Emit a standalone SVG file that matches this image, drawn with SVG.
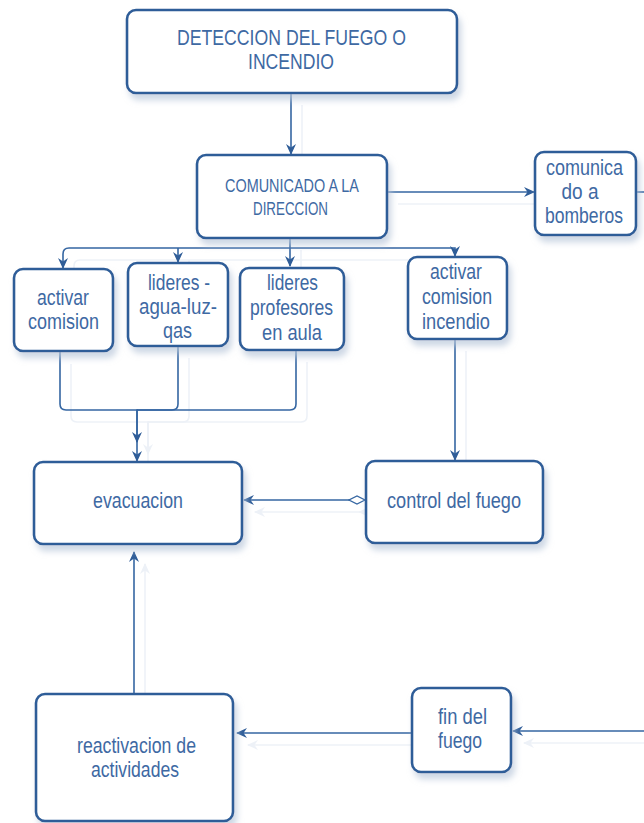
<svg xmlns="http://www.w3.org/2000/svg" xmlns:xlink="http://www.w3.org/1999/xlink" width="644" height="823" viewBox="0 0 644 823">
<style>
.box{fill:#ffffff;stroke:#2f5d98;stroke-width:2.6;filter:url(#sh)}
.t{font-family:"Liberation Sans Narrow","Liberation Sans",Arial,sans-serif;fill:#3e69a3;text-anchor:middle;font-size:22px}
.t.sm{font-size:18.5px}
.c{fill:none;stroke:#3566a2;stroke-width:1.6}
</style>
<defs>
<filter id="sh" x="-20%" y="-20%" width="140%" height="150%">
<feGaussianBlur in="SourceAlpha" stdDeviation="3"/>
<feOffset dx="3" dy="6" result="b"/>
<feFlood flood-color="#b9c7da" flood-opacity="0.7"/>
<feComposite in2="b" operator="in"/>
<feMerge><feMergeNode/><feMergeNode in="SourceGraphic"/></feMerge>
</filter>
<filter id="ghost">
<feFlood flood-color="#edf1f7"/>
<feComposite in2="SourceAlpha" operator="in"/>
</filter>
<marker id="ar" markerWidth="12" markerHeight="12" refX="10" refY="6" orient="auto" markerUnits="userSpaceOnUse">
<path d="M0,1 L11,6 L0,11 L3.5,6 z" fill="#2f5d98"/>
</marker>
<marker id="dm" markerWidth="18" markerHeight="10" refX="1" refY="5" orient="auto" markerUnits="userSpaceOnUse">
<path d="M1,5 L9,1 L17,5 L9,9 z" fill="#ffffff" stroke="#3566a2" stroke-width="1.3"/>
</marker>
</defs>
<rect width="644" height="823" fill="#ffffff"/>

<use xlink:href="#connectors" transform="translate(11,12)" filter="url(#ghost)"/>

<g id="connectors">
<path class="c" d="M291,93 V154" marker-end="url(#ar)"/>
<path class="c" d="M387,192 H534" marker-end="url(#ar)"/>
<path class="c" d="M636,192 H644"/>
<path class="c" d="M290,238 V266" marker-end="url(#ar)"/>
<path class="c" d="M290,248 H69 Q63,248 63,254 V268" marker-end="url(#ar)"/>
<path class="c" d="M178,248 V262" marker-end="url(#ar)"/>
<path class="c" d="M290,248 H455 V256" marker-end="url(#ar)"/>
<path class="c" d="M60,352 V404 Q60,410 66,410 H137 V461" marker-end="url(#ar)"/>
<path class="c" d="M178,346 V404 Q178,410 172,410 H137 V442" marker-end="url(#ar)"/>
<path class="c" d="M296,350 V404 Q296,410 290,410 H137"/>
<path class="c" d="M455,339 V460" marker-end="url(#ar)"/>
<path class="c" d="M365,500 H244" marker-start="url(#dm)" marker-end="url(#ar)"/>
<path class="c" d="M134,694 V552" marker-end="url(#ar)"/>
<path class="c" d="M412,733 H237" marker-end="url(#ar)"/>
<path class="c" d="M644,731 H513" marker-end="url(#ar)"/>
</g>

<g id="n-deteccion">
<rect class="box" x="127" y="10" width="330" height="83" rx="9"/>
<text class="t" x="291.5" y="45" textLength="229" lengthAdjust="spacingAndGlyphs">DETECCION DEL FUEGO O</text>
<text class="t" x="291" y="69" textLength="86" lengthAdjust="spacingAndGlyphs">INCENDIO</text>
</g>

<g id="n-comunicado">
<rect class="box" x="197" y="155" width="190" height="83" rx="9"/>
<text class="t sm" x="292" y="192" textLength="134" lengthAdjust="spacingAndGlyphs">COMUNICADO A LA</text>
<text class="t sm" x="290.5" y="215" textLength="75" lengthAdjust="spacingAndGlyphs">DIRECCION</text>
</g>

<g id="n-bomberos">
<rect class="box" x="535" y="152" width="101" height="83" rx="9"/>
<text class="t" x="584.5" y="175" textLength="77" lengthAdjust="spacingAndGlyphs">comunica</text>
<text class="t" x="580" y="199" textLength="37" lengthAdjust="spacingAndGlyphs">do a</text>
<text class="t" x="584" y="223" textLength="78" lengthAdjust="spacingAndGlyphs">bomberos</text>
</g>

<g id="n-activar">
<rect class="box" x="14" y="269" width="99" height="82" rx="9"/>
<text class="t" x="63" y="305" textLength="52" lengthAdjust="spacingAndGlyphs">activar</text>
<text class="t" x="63.5" y="329" textLength="71" lengthAdjust="spacingAndGlyphs">comision</text>
</g>

<g id="n-lideres-agua">
<rect class="box" x="128" y="263" width="100" height="83" rx="9"/>
<text class="t" x="179" y="290" textLength="62" lengthAdjust="spacingAndGlyphs">lideres -</text>
<text class="t" x="178" y="314" textLength="78" lengthAdjust="spacingAndGlyphs">agua-luz-</text>
<text class="t" x="177.5" y="338" textLength="29" lengthAdjust="spacingAndGlyphs">qas</text>
</g>

<g id="n-lideres-prof">
<rect class="box" x="240" y="268" width="104" height="82" rx="9"/>
<text class="t" x="292.5" y="290" textLength="51" lengthAdjust="spacingAndGlyphs">lideres</text>
<text class="t" x="291.5" y="315" textLength="83" lengthAdjust="spacingAndGlyphs">profesores</text>
<text class="t" x="292" y="340" textLength="60" lengthAdjust="spacingAndGlyphs">en aula</text>
</g>

<g id="n-incendio">
<rect class="box" x="408" y="257" width="99" height="82" rx="9"/>
<text class="t" x="456" y="279" textLength="52" lengthAdjust="spacingAndGlyphs">activar</text>
<text class="t" x="457" y="304" textLength="70" lengthAdjust="spacingAndGlyphs">comision</text>
<text class="t" x="456" y="329" textLength="68" lengthAdjust="spacingAndGlyphs">incendio</text>
</g>

<g id="n-evacuacion">
<rect class="box" x="34" y="462" width="208" height="82" rx="9"/>
<text class="t" x="138" y="508" textLength="90" lengthAdjust="spacingAndGlyphs">evacuacion</text>
</g>

<g id="n-control">
<rect class="box" x="366" y="461" width="177" height="82" rx="9"/>
<text class="t" x="454" y="508" textLength="134" lengthAdjust="spacingAndGlyphs">control del fuego</text>
</g>

<g id="n-reactivacion">
<rect class="box" x="36" y="694" width="197" height="127" rx="9"/>
<text class="t" x="136.5" y="753" textLength="119" lengthAdjust="spacingAndGlyphs">reactivacion de</text>
<text class="t" x="135" y="777" textLength="88" lengthAdjust="spacingAndGlyphs">actividades</text>
</g>

<g id="n-fin">
<rect class="box" x="412" y="688" width="99" height="84" rx="9"/>
<text class="t" x="462.5" y="724" textLength="49" lengthAdjust="spacingAndGlyphs">fin del</text>
<text class="t" x="460" y="748" textLength="44" lengthAdjust="spacingAndGlyphs">fuego</text>
</g>
</svg>
